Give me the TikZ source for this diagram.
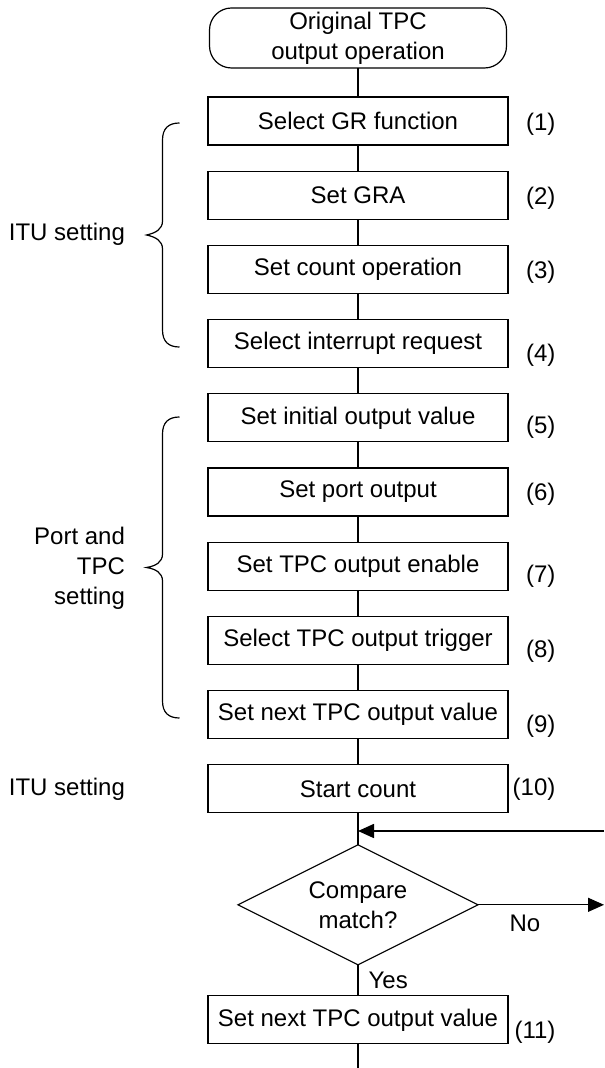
\documentclass[tikz,border=0pt]{standalone}
\usepackage{fontspec}
\setmainfont{Liberation Sans}
\usetikzlibrary{shapes.geometric, positioning, arrows.meta, calc}

\begin{document}
\begin{tikzpicture}[
    x=0.5pt, y=-0.5pt, line width=0.6pt,
    font=\fontsize{12pt}{15pt}\selectfont,
    > = {Triangle[length=8pt, width=7pt]},
    start/.style={rectangle, rounded corners=11pt, draw, align=center, minimum width=148.5pt, minimum height=30pt, inner sep=0pt, outer sep=0pt},
    stepbox/.style={rectangle, draw, minimum width=150pt, minimum height=24pt, inner sep=0pt, outer sep=0pt},
    decision/.style={diamond, draw, aspect=2, align=center, minimum width=120pt, minimum height=60pt, inner sep=1pt, outer sep=0pt},
    lbl/.style={inner sep=0pt, align=right}
]
\useasboundingbox (0,0) rectangle (604,1068);

% 1. MAIN COLUMN
\node[start] (start) at (358,38) {Original TPC\\output operation};
\node[stepbox, below=14.5pt of start] (b1) {Select GR function};
\node[stepbox, below=13.1pt of b1] (b2) {Set GRA};
\node[stepbox, below=13.1pt of b2] (b3) {Set count operation};
\node[stepbox, below=13.1pt of b3] (b4) {Select interrupt request};
\node[stepbox, below=13.1pt of b4] (b5) {Set initial output value};
\node[stepbox, below=13.1pt of b5] (b6) {Set port output};
\node[stepbox, below=13.1pt of b6] (b7) {Set TPC output enable};
\node[stepbox, below=13.1pt of b7] (b8) {Select TPC output trigger};
\node[stepbox, below=13.1pt of b8] (b9) {Set next TPC output value};
\node[stepbox, below=13.1pt of b9] (b10) {Start count};
\node[decision, below=16pt of b10] (cmp) {Compare\\match?};
\node[stepbox, below=15.5pt of cmp] (b11) {Set next TPC output value};

% 2. STEP NUMBERS
\node[lbl, anchor=east] (n1) at ([xshift=24pt, yshift=-1.5pt]b1.east) {(1)};
\node[lbl, anchor=east] (n2) at ([xshift=24pt, yshift=-1.5pt]b2.east) {(2)};
\node[lbl, anchor=east] (n3) at ([xshift=24pt, yshift=-1.5pt]b3.east) {(3)};
\node[lbl, anchor=east] (n4) at ([xshift=24pt, yshift=-6pt]b4.east) {(4)};
\node[lbl, anchor=east] (n5) at ([xshift=24pt, yshift=-4.5pt]b5.east) {(5)};
\node[lbl, anchor=east] (n6) at ([xshift=24pt, yshift=-1pt]b6.east) {(6)};
\node[lbl, anchor=east] (n7) at ([xshift=24pt, yshift=-5pt]b7.east) {(7)};
\node[lbl, anchor=east] (n8) at ([xshift=24pt, yshift=-5.5pt]b8.east) {(8)};
\node[lbl, anchor=east] (n9) at ([xshift=24pt, yshift=-6pt]b9.east) {(9)};
\node[lbl, anchor=east] (n10) at ([xshift=24pt]b10.east) {(10)};
\node[lbl, anchor=east] (n11) at ([xshift=24pt, yshift=-6pt]b11.east) {(11)};

% 3. SIDE LABELS AND BRACES
\node[lbl, anchor=east] (itu1) at (125.5,234) {ITU setting};
\node[lbl, anchor=east] (port) at (125.5,568) {Port and\\TPC\\setting};
\node[lbl, anchor=east] (itu2) at (b10.center -| itu1.east) {ITU setting};

\draw (179.5,123) .. controls (169,123) and (162.5,128) .. (162.5,140) -- (162.5,221)
    .. controls (162.5,229) and (156,233) .. (146.5,235)
    .. controls (156,237) and (162.5,241) .. (162.5,249) -- (162.5,330)
    .. controls (162.5,342) and (169,347) .. (179.5,347);
\draw (179.5,417) .. controls (169,417) and (162.5,422) .. (162.5,434) -- (162.5,554)
    .. controls (162.5,562) and (156,566) .. (146.5,567.5)
    .. controls (156,569) and (162.5,573) .. (162.5,581) -- (162.5,701)
    .. controls (162.5,713) and (169,718) .. (179.5,718);

% 4. CONNECTORS
\coordinate (loopin) at (604,831);
\coordinate (exit) at (358,1068);

\draw (start) -- (b1);
\draw (b1) -- (b2);
\draw (b2) -- (b3);
\draw (b3) -- (b4);
\draw (b4) -- (b5);
\draw (b5) -- (b6);
\draw (b6) -- (b7);
\draw (b7) -- (b8);
\draw (b8) -- (b9);
\draw (b9) -- (b10);
\draw (b10) -- (cmp);
\draw (cmp) -- node[lbl, anchor=west, xshift=5pt] (yes) {Yes} (b11);
\draw (b11) -- (exit);

\draw[->, line width=0.8pt] (loopin) -- (loopin -| b10.south);
\draw[->] (cmp.east) -- (cmp.east -| loopin);
\node[lbl, anchor=north west] (no) at ([xshift=15.5pt, yshift=-5pt]cmp.east) {No};
% the loop comes back in from the right edge
\end{tikzpicture}
\end{document}
